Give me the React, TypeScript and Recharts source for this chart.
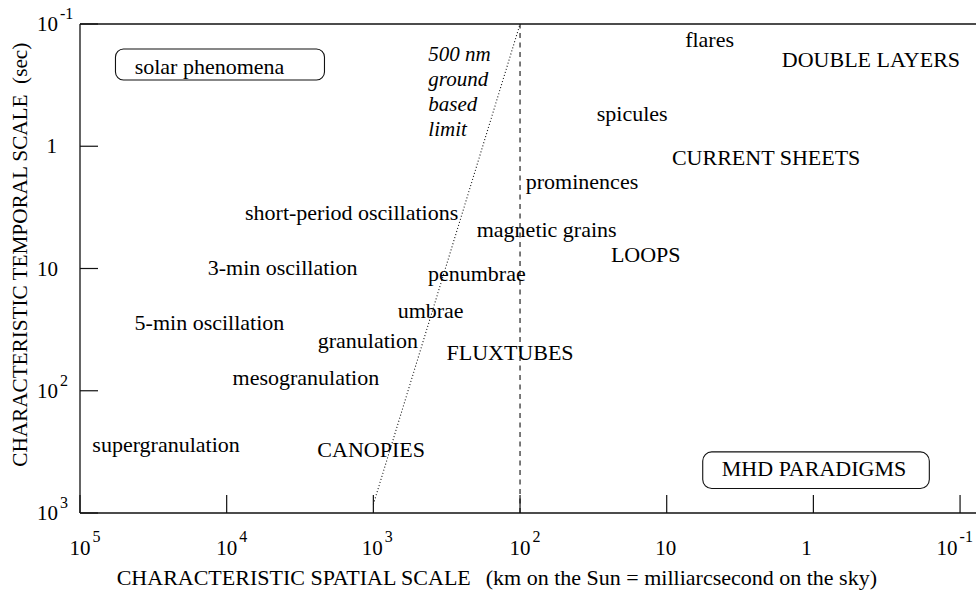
import React from 'react';
import { ComposedChart, XAxis, YAxis, Scatter, Line, ReferenceLine } from 'recharts';

// ---- data ----
const X_TICKS = [1e5, 1e4, 1e3, 1e2, 10, 1, 0.1];
const X_TICK_LABELS: [string, string][] = [
  ['10', '5'], ['10', '4'], ['10', '3'], ['10', '2'], ['10', ''], ['1', ''], ['10', '-1'],
];
const Y_TICKS = [0.1, 1, 10, 100, 1000];
const Y_TICK_LABELS: [string, string][] = [
  ['10', '-1'], ['1', ''], ['10', ''], ['10', '2'], ['10', '3'],
];
const X_DOMAIN = [0.0625, 1e5];
const Y_DOMAIN = [0.1, 1000];

const LABELS = [
  { name: 'solar phenomena', x: 13100, y: 0.258 },
  { name: 'flares', x: 5.1, y: 0.155 },
  { name: 'DOUBLE LAYERS', x: 0.405, y: 0.226 },
  { name: 'spicules', x: 17.2, y: 0.618 },
  { name: 'CURRENT SHEETS', x: 2.1, y: 1.43 },
  { name: 'prominences', x: 37.8, y: 2.25 },
  { name: 'magnetic grains', x: 65.8, y: 5.57 },
  { name: 'LOOPS', x: 13.9, y: 8.81 },
  { name: 'short-period oscillations', x: 1406, y: 4.02 },
  { name: '3-min oscillation', x: 4160, y: 11.3 },
  { name: 'penumbrae', x: 197, y: 12.6 },
  { name: 'umbrae', x: 407, y: 25.6 },
  { name: 'granulation', x: 1091, y: 45.1 },
  { name: '5-min oscillation', x: 13100, y: 31.9 },
  { name: 'mesogranulation', x: 2886, y: 90 },
  { name: 'supergranulation', x: 25900, y: 316 },
  { name: 'CANOPIES', x: 1035, y: 351 },
  { name: 'FLUXTUBES', x: 117, y: 56.2 },
  { name: 'MHD PARADIGMS', x: 0.99, y: 497 },
  { name: '500 nm|ground|based|limit', x: 422, y: 0.2 },
];

const LIMIT_LINE = [
  { x: 1000, y: 850 },
  { x: 100, y: 0.1 },
];
const DIVIDER_X = 100;

const X_TITLE_A = 'CHARACTERISTIC SPATIAL SCALE';
const X_TITLE_B = '(km on the Sun = milliarcsecond on the sky)';
const Y_TITLE_A = 'CHARACTERISTIC TEMPORAL SCALE';
const Y_TITLE_B = '(sec)';

// ---- styles ----
const FONT = '"Liberation Serif", "Times New Roman", Times, serif';
const INK = '#111';
const X_TICK_DX = [0, 0, -1, 0, -1, -7, -13];
const BOXES: Record<string, { l: number; t: number; w: number; h: number; r: number }> = {
  'solar phenomena': { l: -94, t: -25.3, w: 209, h: 31, r: 8 },
  'MHD PARADIGMS': { l: -111.3, t: -24, w: 226.6, h: 36.6, r: 9 },
};

const XTick = (props: any) => {
  const { x, y, payload } = props;
  const i = X_TICKS.indexOf(payload.value);
  if (i < 0) return null;
  const [base, exp] = X_TICK_LABELS[i];
  const cx = x + X_TICK_DX[i];
  const halfW = base.length * 5.25;
  return (
    <g>
      <line x1={x} y1={y} x2={x} y2={y - 18} stroke={INK} strokeWidth={1.2} />
      <text x={cx} y={y + 42} textAnchor="middle" fontFamily={FONT} fontSize={21} fill="#000">
        {base}
      </text>
      {exp && (
        <text x={cx + halfW + 2} y={y + 29} textAnchor="start" fontFamily={FONT} fontSize={16} fill="#000">
          {exp}
        </text>
      )}
    </g>
  );
};

const YTick = (props: any) => {
  const { x, y, payload } = props;
  const i = Y_TICKS.indexOf(payload.value);
  if (i < 0) return null;
  const [base, exp] = Y_TICK_LABELS[i];
  return (
    <g>
      <line x1={x} y1={y} x2={x + 18} y2={y} stroke={INK} strokeWidth={1.2} />
      <text x={x - 22 + (base.length === 1 ? -1 : 0)} y={y + 7} textAnchor="end" fontFamily={FONT} fontSize={21} fill="#000">
        {base}
      </text>
      {exp && (
        <text x={x - 20} y={y - 5} textAnchor="start" fontFamily={FONT} fontSize={16} fill="#000">
          {exp}
        </text>
      )}
    </g>
  );
};

const LabelShape = (props: any) => {
  const { cx, cy, payload } = props;
  const name: string = payload.name;
  if (name.includes('|')) {
    const lines = name.split('|');
    return (
      <text x={cx} y={cy} fontFamily={FONT} fontStyle="italic" fontSize={21} fill="#000">
        {lines.map((l, k) => (
          <tspan key={k} x={cx} dy={k === 0 ? 0 : 25.2}>
            {l}
          </tspan>
        ))}
      </text>
    );
  }
  const box = BOXES[name];
  return (
    <g>
      {box && (
        <rect x={cx + box.l} y={cy + box.t} width={box.w} height={box.h} rx={box.r} ry={box.r}
          fill="none" stroke={INK} strokeWidth={1.1} />
      )}
      <text x={cx} y={cy} textAnchor="middle" fontFamily={FONT} fontSize={22} fill="#000">
        {name}
      </text>
    </g>
  );
};

const XTitle = (props: any) => {
  const vb = props.viewBox || { x: 80, y: 513 };
  return (
    <text x={vb.x + 36.7} y={vb.y + 71.5} fontFamily={FONT} fontSize={22} fill="#000">
      <tspan>{X_TITLE_A}</tspan>
      <tspan dx={15}>{X_TITLE_B}</tspan>
    </text>
  );
};

const YTitle = () => {
  const bx = 26.7;
  const by = 466.7;
  return (
    <text x={bx} y={by} transform={`rotate(-90, ${bx}, ${by})`} textAnchor="start"
      fontFamily={FONT} fontSize={21} fill="#000" textLength={424} lengthAdjust="spacingAndGlyphs">
      {Y_TITLE_A + '\u00a0\u00a0' + Y_TITLE_B}
    </text>
  );
};

export default function App() {
  return (
    <div style={{ position: 'absolute', left: 0, top: 0, width: 976, height: 590, overflow: 'hidden', background: '#fff' }}>
      <ComposedChart width={1000} height={590} margin={{ top: 24, right: 10, bottom: 0, left: 0 }}>
        <XAxis
          dataKey="x"
          type="number"
          scale="log"
          domain={X_DOMAIN}
          allowDataOverflow
          reversed
          ticks={X_TICKS}
          interval={0}
          height={77}
          tickSize={0}
          tickMargin={0}
          tickLine={false}
          tick={<XTick />}
          axisLine={{ stroke: INK, strokeWidth: 1.3 }}
          label={<XTitle />}
        />
        <YAxis
          dataKey="y"
          type="number"
          scale="log"
          domain={Y_DOMAIN}
          allowDataOverflow
          reversed
          ticks={Y_TICKS}
          interval={0}
          width={80}
          tickSize={0}
          tickMargin={0}
          tickLine={false}
          tick={<YTick />}
          axisLine={{ stroke: INK, strokeWidth: 1.3 }}
          label={<YTitle />}
        />
        <ReferenceLine y={0.1} stroke={INK} strokeWidth={1.3} />
        <ReferenceLine x={DIVIDER_X} stroke={INK} strokeWidth={1.1} strokeDasharray="5 4.5" />
        <Line
          data={LIMIT_LINE}
          dataKey="y"
          type="linear"
          stroke={INK}
          strokeWidth={1.1}
          strokeDasharray="1 2.2"
          dot={false}
          activeDot={false}
          isAnimationActive={false}
        />
        <Scatter data={LABELS} dataKey="y" shape={<LabelShape />} isAnimationActive={false} />
      </ComposedChart>
    </div>
  );
}
